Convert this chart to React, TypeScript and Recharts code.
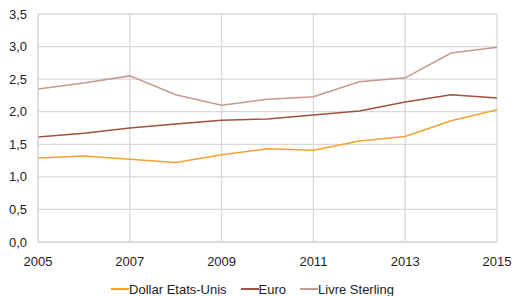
import React from "react";
import { LineChart, Line, XAxis, YAxis, CartesianGrid, Legend } from "recharts";

const years = [2005, 2006, 2007, 2008, 2009, 2010, 2011, 2012, 2013, 2014, 2015];
const dollar = [1.29, 1.32, 1.27, 1.22, 1.34, 1.43, 1.41, 1.55, 1.62, 1.86, 2.03];
const euro = [1.61, 1.67, 1.75, 1.81, 1.87, 1.89, 1.95, 2.01, 2.15, 2.26, 2.21];
const livre = [2.35, 2.44, 2.55, 2.26, 2.10, 2.19, 2.23, 2.46, 2.52, 2.90, 2.99];
const xTicks = [2005, 2007, 2009, 2011, 2013, 2015];
const yTicks = [0, 0.5, 1, 1.5, 2, 2.5, 3, 3.5];

const seriesInfo = [
  { key: "dollar", name: "Dollar Etats-Unis", color: "#F4A22E" },
  { key: "euro", name: "Euro", color: "#A0523E" },
  { key: "livre", name: "Livre Sterling", color: "#C49A90" },
];

const data = years.map((y, i) => ({
  year: y,
  dollar: dollar[i],
  euro: euro[i],
  livre: livre[i],
}));

const fmt = (v: number) => v.toFixed(1).replace(".", ",");

const LegendContent = () => (
  <div
    style={{
      display: "flex",
      justifyContent: "center",
      alignItems: "center",
      height: 20,
      fontFamily: "'Liberation Sans', Arial, sans-serif",
      fontSize: 13,
      color: "#222",
      paddingLeft: 8,
    }}
  >
    {seriesInfo.map((s, i) => (
      <div key={s.key} style={{ display: "flex", alignItems: "center", marginLeft: i === 0 ? 0 : 14 }}>
        <div style={{ width: 18, height: 1.5, background: s.color }} />
        <span>{s.name}</span>
      </div>
    ))}
  </div>
);

export default function App() {
  const font = { fontFamily: "'Liberation Sans', Arial, sans-serif", fontSize: 13, fill: "#222" };
  return (
    <div style={{ position: "absolute", left: 0, top: 0, width: 514, height: 296, background: "#fff" }}>
      <LineChart width={514} height={296} data={data} margin={{ top: 14, right: 17, left: 0, bottom: 4 }}>
        <CartesianGrid stroke="#D9D9D9" strokeWidth={1.3} />
        <XAxis
          dataKey="year"
          type="number"
          domain={[2005, 2015]}
          ticks={xTicks}
          tick={font}
          tickLine={false}
          tickMargin={9}
          axisLine={{ stroke: "#D9D9D9", strokeWidth: 1.3 }}
          height={30}
        />
        <YAxis
          domain={[0, 3.5]}
          ticks={yTicks}
          tickFormatter={fmt}
          tick={font}
          tickLine={false}
          tickMargin={5}
          axisLine={{ stroke: "#D9D9D9", strokeWidth: 1.3 }}
          width={38}
        />
        <Legend verticalAlign="bottom" content={<LegendContent />} wrapperStyle={{ bottom: -3 }} />
        {seriesInfo.map((s) => (
          <Line
            key={s.key}
            type="linear"
            dataKey={s.key}
            name={s.name}
            stroke={s.color}
            strokeWidth={1.5}
            dot={false}
            isAnimationActive={false}
          />
        ))}
      </LineChart>
    </div>
  );
}
